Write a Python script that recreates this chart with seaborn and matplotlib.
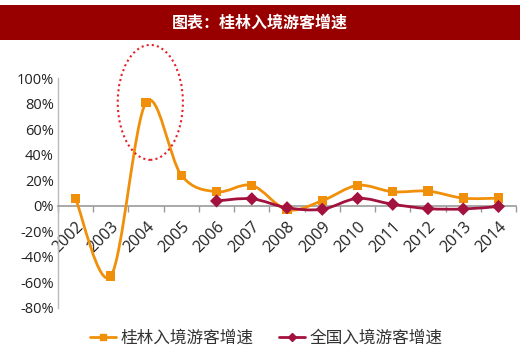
import numpy as np
import pandas as pd
import seaborn as sns
import matplotlib.pyplot as plt
from matplotlib.path import Path
from matplotlib.patches import PathPatch, Ellipse
from matplotlib.lines import Line2D

years = ['2002', '2003', '2004', '2005', '2006', '2007', '2008',
         '2009', '2010', '2011', '2012', '2013', '2014']
guilin = [5.5, -55, 81, 24, 11, 16, -3, 4, 16, 11, 11.5, 6, 6]
national_years = ['2006', '2007', '2008', '2009', '2010', '2011', '2012', '2013', '2014']
national = [3.8, 5.5, -1.5, -2.7, 5.8, 1.2, -2.2, -2.5, -0.5]
yticks = [-80, -60, -40, -20, 0, 20, 40, 60, 80, 100]

name_gl = '桂林入境游客增速'
name_cn = '全国入境游客增速'
c_gl = '#F0900A'
c_cn = '#A3123F'

sns.set_theme(style='white')
plt.rcParams['font.family'] = ['Open Sans', 'Noto Sans CJK SC', 'DejaVu Sans']

df = pd.concat([
    pd.DataFrame({'year': years, 'growth': guilin, 'series': name_gl}),
    pd.DataFrame({'year': national_years, 'growth': national, 'series': name_cn}),
])
df['x'] = df['year'].map({y: i for i, y in enumerate(years)})

fig = plt.figure(figsize=(5.2, 3.55), dpi=100)

# title band
tax = fig.add_axes([0, 0.887, 1, 0.099])
tax.set_facecolor('#980000')
tax.set_xticks([]); tax.set_yticks([])
for s in tax.spines.values():
    s.set_visible(False)
tax.text(0.5, 0.5, '图表：桂林入境游客增速', color='white', fontsize=11.5,
         fontweight='bold', ha='center', va='center',
         family=['Noto Sans CJK SC', 'DejaVu Sans'])

ax = fig.add_axes([0.1115, 0.1324, 0.881, 0.6476])


def smooth_path(xs, ys):
    # Excel-like smoothed line (Catmull-Rom as cubic Bezier)
    pts = np.column_stack([xs, ys]).astype(float)
    n = len(pts)
    verts = [pts[0]]
    codes = [Path.MOVETO]
    for i in range(n - 1):
        p0 = pts[max(i - 1, 0)]
        p1 = pts[i]
        p2 = pts[i + 1]
        p3 = pts[min(i + 2, n - 1)]
        verts += [p1 + (p2 - p0) / 6, p2 - (p3 - p1) / 6, p2]
        codes += [Path.CURVE4] * 3
    return Path(verts, codes)


for name, color in [(name_gl, c_gl), (name_cn, c_cn)]:
    sub = df[df['series'] == name]
    ax.add_patch(PathPatch(smooth_path(sub['x'], sub['growth']), facecolor='none',
                           edgecolor=color, lw=2, zorder=3))

sns.scatterplot(data=df, x='x', y='growth', hue='series', style='series',
                palette={name_gl: c_gl, name_cn: c_cn},
                markers={name_gl: 's', name_cn: 'D'},
                s=45, edgecolor='none', ax=ax, legend=False, zorder=4)

ax.add_patch(Ellipse((2.12, 81), 1.85, 90, fill=False, edgecolor='#E8202A',
                     linestyle=(0, (1, 1.5)), lw=1.5, zorder=5, clip_on=False))

ax.set_xlim(-0.5, len(years) - 0.5)
ax.set_ylim(-80, 100)
ax.set_xlabel('')
ax.set_ylabel('')

# spine position first: moving it rebuilds the tick objects
for s in ['top', 'right']:
    ax.spines[s].set_visible(False)
ax.spines['bottom'].set_position(('data', 0))
ax.spines['bottom'].set_color('#999999')
ax.spines['left'].set_color('#BBBBBB')
ax.spines['bottom'].set_linewidth(1.2)
ax.spines['left'].set_linewidth(1)

ax.tick_params(axis='x', which='major', length=0, pad=9)
ax.tick_params(axis='x', which='minor', length=4, color='#999999', width=1,
               direction='out', bottom=True)
ax.tick_params(axis='y', length=0, pad=3)

ax.set_yticks(yticks)
ax.set_yticklabels([f'{v}%' for v in yticks], fontsize=10.5, color='#222222')
ax.set_xticks(np.arange(-0.5, len(years)), minor=True)
ax.set_xticks(range(len(years)))
ax.set_xticklabels(years, fontsize=11.5, color='#222222')
for lab in ax.get_xticklabels():
    lab.set_rotation(45)
    lab.set_rotation_mode('anchor')
    lab.set_ha('right')
    lab.set_va('top')

handles = [Line2D([], [], color=c_gl, lw=2, marker='s', markersize=5),
           Line2D([], [], color=c_cn, lw=2, marker='D', markersize=4.5)]
fig.legend(handles, [name_gl, name_cn], loc='center', bbox_to_anchor=(0.512, 0.048),
           ncol=2, frameon=False, handlelength=1.55, handletextpad=0.25,
           columnspacing=1.55, labelcolor='#333333',
           prop={'family': ['Noto Sans CJK SC', 'DejaVu Sans'], 'size': 12})

fig.savefig('out.png', dpi=100)
